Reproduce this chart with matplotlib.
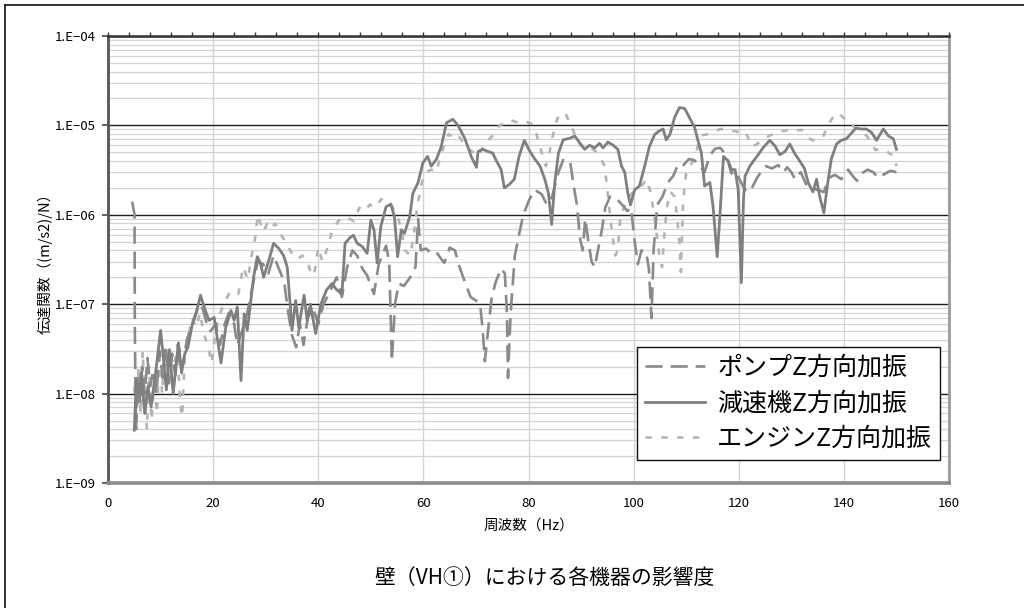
import math
import matplotlib
matplotlib.use("Agg")
import matplotlib.pyplot as plt
from matplotlib.ticker import FixedLocator, LogLocator, FuncFormatter, MultipleLocator, NullFormatter
from matplotlib.lines import Line2D

plt.rcParams['font.family'] = ['Noto Sans CJK JP', 'DejaVu Sans']

# --- transfer function data: frequency [Hz] and magnitude [(m/s2)/N] ---
pump_freq = [4.6, 5.05, 5.1, 5.2, 5.35, 5.6, 6.0, 6.5, 7.0, 7.5, 8.0, 8.6, 9.2, 9.8, 10.4,
             11.0, 11.6, 12.2, 12.8, 13.5, 14.2, 15.0, 15.8, 16.5, 17.3, 18.0, 18.8, 19.5,
             20.5, 21.3, 22.2, 23.0, 24.0, 24.6, 25.5, 26.5, 27.5, 28.5, 29.5, 30.5, 31.5,
             32.5, 33.5, 34.3, 35.0, 35.8, 36.5, 37.2, 38.0, 39.0, 40.0, 41.0, 42.0, 43.5,
             44.5, 45.5, 46.5, 47.4, 48.4, 49.3, 50.0, 50.6, 51.5, 52.9, 53.5, 54.0, 54.6,
             55.3, 56.3, 57.5, 58.5, 59.0, 59.5, 60.5, 61.5, 62.5, 63.4, 64.0, 65.0, 66.0,
             66.8, 68.0, 69.0, 70.0, 70.8, 71.3, 71.7, 72.3, 73.0, 73.8, 74.8, 75.5, 75.9,
             76.1, 76.6, 77.4, 78.2, 79.0, 80.2, 81.2, 82.5, 83.5, 84.5, 85.7, 86.6, 87.9,
             88.5, 89.2, 89.8, 90.3, 90.8, 91.4, 92.0, 92.6, 93.2, 94.0, 94.6, 95.5, 96.8,
             97.8, 98.8, 99.5, 100.2, 100.8, 101.5, 102.4, 102.9, 103.4, 103.8, 104.5,
             105.5, 106.5, 107.5, 108.5, 109.5, 110.5, 111.5, 112.5, 113.5, 114.5, 115.5,
             116.5, 117.2, 118.0, 118.6, 119.3, 120.0, 120.6, 121.5, 122.5, 123.5, 124.5,
             125.2, 126.3, 127.5, 128.5, 129.2, 130.0, 130.7, 131.8, 132.8, 133.8, 135.0,
             136.2, 137.2, 138.3, 139.5, 140.8, 141.5, 142.5, 143.4, 144.5, 145.6, 146.5,
             147.5, 148.8, 150.0]
pump_val = [1.4e-6, 1.0e-6, 6e-8, 1.5e-8, 4.0e-9, 1.5e-8, 8e-9, 2.0e-8, 1.0e-8, 2.5e-8,
            1.2e-8, 1.8e-8, 1.0e-8, 3.0e-8, 1.5e-8, 3.5e-8, 1.3e-8, 2.8e-8, 1.6e-8, 3.2e-8,
            2.0e-8, 4e-8, 5.5e-8, 7e-8, 1.0e-7, 9e-8, 6e-8, 5e-8, 6e-8, 3.5e-8, 6e-8, 8e-8,
            6e-8, 3.5e-8, 5e-8, 8e-8, 1.6e-7, 3e-7, 2.8e-7, 2.2e-7, 3.5e-7, 2.5e-7, 1.8e-7,
            8e-8, 4.5e-8, 3.3e-8, 6e-8, 3.5e-8, 7e-8, 9e-8, 6e-8, 1.0e-7, 1.3e-7, 2.0e-7,
            1.2e-7, 2.6e-7, 4.0e-7, 3.5e-7, 2.5e-7, 2.1e-7, 1.6e-7, 1.3e-7, 2.8e-7, 4.5e-7,
            3.0e-7, 2.3e-8, 1.0e-7, 1.7e-7, 1.6e-7, 2.0e-7, 2.6e-7, 9e-7, 4e-7, 4.2e-7,
            3.7e-7, 3.8e-7, 3.2e-7, 2.9e-7, 4.3e-7, 4.0e-7, 2.7e-7, 1.7e-7, 1.2e-7, 1.1e-7,
            1.0e-7, 5e-8, 2.3e-8, 5e-8, 1.2e-7, 1.8e-7, 2.5e-7, 2.2e-7, 8e-8, 1.5e-8, 8e-8,
            3.5e-7, 6e-7, 1.0e-6, 1.5e-6, 1.9e-6, 1.7e-6, 1.3e-6, 1.6e-6, 3.0e-6, 4.1e-6,
            4.0e-6, 2.3e-6, 1.3e-6, 5.5e-7, 4e-7, 9e-7, 5e-7, 3e-7, 2.6e-7, 4e-7, 7e-7,
            1.2e-6, 1.6e-6, 1.5e-6, 1.3e-6, 1.1e-6, 1.2e-6, 5e-7, 2.8e-7, 4e-7, 3.8e-7,
            2.5e-7, 7e-8, 4e-7, 1.3e-6, 1.6e-6, 2.3e-6, 2.7e-6, 3.7e-6, 3.6e-6, 4.2e-6,
            4.1e-6, 3.6e-6, 3.0e-6, 4.6e-6, 5.5e-6, 5.6e-6, 5.0e-6, 3.9e-6, 2.9e-6, 3.1e-6,
            2.6e-6, 2.2e-6, 1.8e-6, 2.0e-6, 2.6e-6, 3.2e-6, 3.5e-6, 3.3e-6, 3.6e-6, 3.0e-6,
            3.4e-6, 3.0e-6, 2.5e-6, 3.0e-6, 2.2e-6, 2.0e-6, 1.9e-6, 1.8e-6, 2.6e-6, 2.8e-6,
            2.5e-6, 3.2e-6, 2.8e-6, 2.4e-6, 2.9e-6, 3.2e-6, 3.0e-6, 2.6e-6, 2.8e-6, 3.1e-6,
            3.0e-6]

reducer_freq = [5.0, 5.4, 6.0, 6.3, 7.0, 7.6, 8.2, 9.2, 10.0, 10.5, 11.1, 11.7, 12.4, 13.4,
                14.0, 14.6, 15.2, 16.1, 16.9, 17.6, 18.3, 19.2, 20.2, 21.5, 22.4, 23.4, 24.0,
                24.6, 25.3, 25.9, 26.5, 27.1, 27.7, 28.4, 29.0, 29.6, 30.6, 31.5, 32.5, 33.4,
                34.1, 34.7, 35.0, 35.7, 36.3, 37.3, 37.9, 38.5, 39.5, 40.5, 41.6, 42.6, 43.5,
                44.5, 45.1, 46.1, 46.7, 47.4, 48.4, 49.3, 50.0, 50.6, 51.2, 51.9, 52.9, 53.8,
                54.5, 55.1, 55.8, 56.4, 57.4, 58.0, 59.0, 59.9, 60.8, 61.5, 62.5, 63.4, 64.4,
                65.6, 66.6, 67.9, 69.1, 70.1, 70.4, 71.3, 72.3, 73.2, 73.9, 74.8, 75.4, 76.4,
                77.3, 78.2, 79.2, 80.2, 81.2, 82.2, 83.1, 83.8, 84.4, 85.0, 85.7, 86.6, 87.9,
                88.8, 89.8, 90.7, 91.6, 92.6, 93.5, 94.2, 95.1, 96.1, 97.0, 97.7, 98.3, 98.9,
                99.4, 100.2, 101.1, 102.1, 103.0, 104.0, 104.9, 105.6, 106.2, 106.9, 107.8,
                108.7, 109.7, 110.6, 111.6, 112.2, 112.9, 113.5, 114.5, 115.1, 115.9, 116.4,
                117.1, 118.0, 118.6, 119.3, 119.9, 120.5, 120.9, 121.2, 122.1, 122.8, 123.7,
                124.6, 125.9, 126.9, 127.8, 128.8, 129.7, 130.6, 131.6, 132.5, 133.2, 134.1,
                134.8, 135.4, 136.2, 136.8, 137.6, 138.6, 139.5, 140.5, 141.5, 142.3, 143.4,
                144.3, 145.3, 146.2, 147.5, 148.5, 149.4, 150.0]
reducer_val = [3.9e-9, 1.4e-8, 9.1e-9, 1.7e-8, 6.0e-9, 1.2e-8, 7.1e-9, 2.0e-8, 5.1e-8, 2.6e-8,
               1.1e-8, 3.1e-8, 1.0e-8, 3.7e-8, 1.7e-8, 2.8e-8, 3.3e-8, 6.2e-8, 8.5e-8, 1.26e-7,
               9.3e-8, 6.6e-8, 7.1e-8, 2.2e-8, 5.5e-8, 8.5e-8, 6.6e-8, 9.3e-8, 1.4e-8, 7.8e-8,
               5.1e-8, 1.0e-7, 2.0e-7, 3.4e-7, 2.9e-7, 2.0e-7, 3.1e-7, 4.8e-7, 4.2e-7, 3.5e-7,
               2.6e-7, 9.3e-8, 5.1e-8, 1.1e-7, 5.5e-8, 1.26e-7, 6.6e-8, 1.0e-7, 4.7e-8, 1.0e-7,
               1.45e-7, 1.7e-7, 1.45e-7, 1.3e-7, 4.8e-7, 5.6e-7, 5.9e-7, 4.8e-7, 4.4e-7, 3.7e-7,
               8.7e-7, 6.8e-7, 2.9e-7, 7.4e-7, 1.23e-6, 1.32e-6, 9.5e-7, 3.4e-7, 6.8e-7, 6.2e-7,
               9.5e-7, 1.74e-6, 2.3e-6, 3.8e-6, 4.5e-6, 3.5e-6, 4.2e-6, 5.8e-6, 1.07e-5, 1.17e-5,
               1.0e-5, 7.1e-6, 4.5e-6, 3.4e-6, 5.1e-6, 5.4e-6, 5.1e-6, 4.9e-6, 4.0e-6, 3.2e-6,
               2.0e-6, 2.2e-6, 2.5e-6, 4.5e-6, 6.8e-6, 5.2e-6, 4.2e-6, 3.5e-6, 2.5e-6, 1.74e-6,
               7.8e-7, 2.3e-6, 4.9e-6, 6.9e-6, 7.2e-6, 7.6e-6, 6.3e-6, 5.4e-6, 6.0e-6, 5.6e-6,
               6.3e-6, 5.6e-6, 6.5e-6, 6.0e-6, 5.4e-6, 3.5e-6, 3.0e-6, 1.74e-6, 1.29e-6, 1.9e-6,
               2.1e-6, 3.5e-6, 5.8e-6, 7.9e-6, 8.7e-6, 9.1e-6, 6.9e-6, 7.9e-6, 1.23e-5, 1.58e-5,
               1.55e-5, 1.23e-5, 9.5e-6, 6.9e-6, 4.9e-6, 2.1e-6, 2.3e-6, 1.26e-6, 3.4e-7, 9.5e-7,
               4.5e-6, 4.0e-6, 3.2e-6, 3.2e-6, 1.9e-6, 1.74e-7, 1.48e-6, 2.7e-6, 3.5e-6, 4.0e-6,
               4.7e-6, 5.6e-6, 6.8e-6, 5.9e-6, 4.7e-6, 5.1e-6, 6.2e-6, 4.9e-6, 4.0e-6, 3.3e-6,
               2.3e-6, 1.8e-6, 2.5e-6, 1.6e-6, 1.05e-6, 2.0e-6, 4.2e-6, 6.2e-6, 6.8e-6, 7.1e-6,
               8.3e-6, 9.3e-6, 9.1e-6, 9.1e-6, 8.3e-6, 6.8e-6, 9.1e-6, 7.6e-6, 7.1e-6, 5.4e-6]

engine_freq = [5.0, 5.4, 5.8, 6.2, 6.6, 7.0, 7.4, 7.8, 8.3, 8.8, 9.3, 9.8, 10.3, 10.8, 11.4,
               12.0, 12.6, 13.2, 13.7, 14.1, 14.6, 15.3, 16.0, 16.8, 17.5, 18.3, 19.0, 19.7,
               20.3, 21.0, 22.0, 23.0, 24.0, 24.8, 25.7, 26.6, 27.3, 27.9, 28.5, 29.0, 29.6,
               30.3, 31.0, 31.8, 32.5, 33.3, 34.2, 35.2, 36.0, 37.0, 38.0, 38.6, 39.2, 40.0,
               40.8, 41.6, 42.6, 43.8, 45.0, 46.0, 46.8, 47.8, 48.8, 49.8, 50.8, 52.0, 53.0,
               54.0, 55.0, 55.8, 56.5, 57.5, 58.2, 58.8, 59.7, 60.5, 61.5, 62.5, 63.2, 64.0,
               64.8, 65.5, 66.5, 67.5, 68.5, 69.5, 70.4, 71.5, 72.5, 73.5, 74.5, 75.3, 76.5,
               77.5, 78.5, 79.5, 80.5, 81.5, 82.5, 83.3, 84.0, 84.7, 85.5, 86.5, 87.2, 88.0,
               88.8, 89.5, 90.5, 91.5, 92.5, 93.5, 94.5, 95.2, 95.8, 96.5, 97.0, 97.5, 98.5,
               99.5, 100.5, 101.5, 102.5, 103.2, 103.8, 104.4, 104.9, 105.4, 105.8, 106.3,
               107.0, 107.8, 108.3, 108.7, 109.0, 109.4, 110.0, 110.8, 111.6, 112.4, 113.2,
               114.2, 115.2, 116.5, 117.8, 119.0, 120.2, 121.3, 122.5, 123.5, 124.5, 125.5,
               126.5, 127.8, 128.8, 129.8, 130.8, 132.0, 133.0, 134.0, 135.0, 136.0, 137.0,
               138.0, 139.0, 140.0, 141.0, 142.0, 143.0, 144.0, 145.0, 146.0, 147.0, 147.8,
               148.8, 149.5, 150.0]
engine_val = [1.2e-8, 5e-9, 2e-8, 6e-9, 3e-8, 8e-9, 4e-9, 2e-8, 5e-9, 1.5e-8, 6e-9, 2.5e-8,
              1.0e-8, 3.0e-8, 1.5e-8, 2.5e-8, 2.0e-8, 3.5e-8, 8e-9, 5.5e-9, 2.5e-8, 4.5e-8,
              7e-8, 5.5e-8, 8e-8, 4.5e-8, 3.5e-8, 2.2e-8, 4e-8, 7e-8, 1.0e-7, 1.3e-7, 1.4e-7,
              1.3e-7, 2.6e-7, 1.9e-7, 3.5e-7, 5e-7, 1.0e-6, 8e-7, 6.5e-7, 8e-7, 7e-7, 8e-7,
              6.5e-7, 5.5e-7, 4.5e-7, 3.5e-7, 3.2e-7, 3.5e-7, 3.0e-7, 2.2e-7, 2.1e-7, 4.3e-7,
              3.0e-7, 4.0e-7, 6.5e-7, 8.5e-7, 9.5e-7, 9e-7, 8.5e-7, 1.2e-6, 1.1e-6, 1.3e-6,
              1.2e-6, 1.5e-6, 1.3e-6, 1.25e-6, 1.0e-6, 7e-7, 4e-7, 3.5e-7, 6e-7, 1.2e-6,
              2.3e-6, 3.0e-6, 3.2e-6, 3.0e-6, 4.5e-6, 6e-6, 8e-6, 7.5e-6, 8e-6, 6.5e-6, 5.5e-6,
              5e-6, 4.5e-6, 6e-6, 7e-6, 8e-6, 1.0e-5, 1.05e-5, 1.15e-5, 1.1e-5, 1.05e-5,
              1.1e-5, 1.05e-5, 8e-6, 5e-6, 3.5e-6, 5e-6, 8e-6, 1.2e-5, 1.4e-5, 1.3e-5, 1.0e-5,
              8e-6, 6.5e-6, 5.5e-6, 5.7e-6, 5.3e-6, 4.5e-6, 3.5e-6, 1.5e-6, 7e-7, 3.5e-7,
              4e-7, 1.0e-6, 1.3e-6, 1.7e-6, 1.9e-6, 2.1e-6, 2.5e-6, 1.8e-6, 1.1e-6, 6e-7,
              3.5e-7, 2.6e-7, 5.5e-7, 1.2e-6, 1.8e-6, 1.6e-6, 9e-7, 5e-7, 2.3e-7, 1.4e-6,
              3.0e-6, 3.6e-6, 4.2e-6, 6.5e-6, 7.8e-6, 8e-6, 8.5e-6, 9.1e-6, 9e-6, 8.7e-6,
              8.4e-6, 8.5e-6, 5.8e-6, 6.2e-6, 7e-6, 7.5e-6, 8e-6, 8.6e-6, 8.7e-6, 9.1e-6,
              8.8e-6, 8.9e-6, 7.5e-6, 6.8e-6, 7e-6, 7.3e-6, 1.02e-5, 1.25e-5, 1.38e-5, 1.2e-5,
              1.1e-5, 9.5e-6, 8.8e-6, 8e-6, 6.8e-6, 5.3e-6, 5.5e-6, 5.3e-6, 4.8e-6, 4.6e-6,
              3.5e-6]

series_labels = ['ポンプZ方向加振', '減速機Z方向加振', 'エンジンZ方向加振']
x_ticks = [0, 20, 40, 60, 80, 100, 120, 140, 160]
y_ticks = [1e-9, 1e-8, 1e-7, 1e-6, 1e-5, 1e-4]
x_label = '周波数（Hz）'
y_label = '伝達関数（(m/s2)/N）'
title = '壁（VH①）における各機器の影響度'

W, H = 1024, 608
fig = plt.figure(figsize=(W / 100, H / 100), dpi=100)
ax = fig.add_axes([108 / W, 1 - 483 / H, (949 - 108) / W, (483 - 36) / H])

ax.set_xlim(0, 160)
ax.set_yscale('log')
ax.set_ylim(1e-9, 1e-4)

# grid: light vertical lines, dark decade lines, light sub-decade lines
ax.set_axisbelow(True)
ax.xaxis.set_major_locator(FixedLocator(x_ticks))
ax.xaxis.set_minor_locator(MultipleLocator(4))
ax.yaxis.set_major_locator(FixedLocator(y_ticks))
ax.yaxis.set_minor_locator(LogLocator(base=10, subs=range(2, 10), numticks=20))
ax.yaxis.set_minor_formatter(NullFormatter())
ax.grid(which='major', axis='x', color='#d4d4d4', lw=1.0)
ax.grid(which='major', axis='y', color='#1e1e1e', lw=1.0)
ax.grid(which='minor', axis='y', color='#d4d4d4', lw=0.9)

ax.yaxis.set_major_formatter(FuncFormatter(lambda v, p: '1.E\u2212%02d' % round(-math.log10(v))))
ax.xaxis.set_major_formatter(FuncFormatter(lambda v, p: '%d' % v))

ax.tick_params(axis='x', which='both', bottom=False, top=True, direction='out',
               length=3, width=1, color='#333333', labelsize=9.5, pad=7)
ax.tick_params(axis='y', which='major', left=True, direction='out', length=4,
               width=1.2, color='#444444', labelsize=9.5, pad=5)
ax.tick_params(axis='y', which='minor', left=False, length=0)

for side, col, lw in [('left', '#555555', 2.0), ('top', '#333333', 1.8),
                      ('right', '#999999', 2.0), ('bottom', '#8c8c8c', 2.6)]:
    ax.spines[side].set_color(col)
    ax.spines[side].set_linewidth(lw)

ax.plot(pump_freq, pump_val, color='#8a8a8a', lw=1.9, dashes=(6.5, 3.0),
        label=series_labels[0], zorder=3)
ax.plot(reducer_freq, reducer_val, color='#7f7f7f', lw=2.0, ls='-',
        label=series_labels[1], zorder=4)
ax.plot(engine_freq, engine_val, color='#b4b4b4', lw=1.9, dashes=(2.4, 3.6),
        label=series_labels[2], zorder=2)

leg = ax.legend(loc='lower right', bbox_to_anchor=((940 - 108) / 841, (483 - 460) / 447),
                borderaxespad=0, fontsize=18, handlelength=2.4, handletextpad=0.5,
                labelspacing=0.38, borderpad=0.32, fancybox=False, framealpha=1,
                edgecolor='#111111')
leg.get_frame().set_linewidth(1.0)

ax.set_xlabel(x_label, fontsize=10.5, labelpad=6)
ax.set_ylabel(y_label, fontsize=10.5, labelpad=1)
fig.text(545 / W, 1 - 578 / H, title, ha='center', va='center', fontsize=15)

# outer frame around the chart (left and top edges visible)
fig.add_artist(Line2D([5 / W, 5 / W], [0, 1 - 5 / H], transform=fig.transFigure,
                      color='#111111', lw=1.2))
fig.add_artist(Line2D([5 / W, 1], [1 - 5 / H, 1 - 5 / H], transform=fig.transFigure,
                      color='#111111', lw=1.2))

fig.savefig('out.png', dpi=100)
